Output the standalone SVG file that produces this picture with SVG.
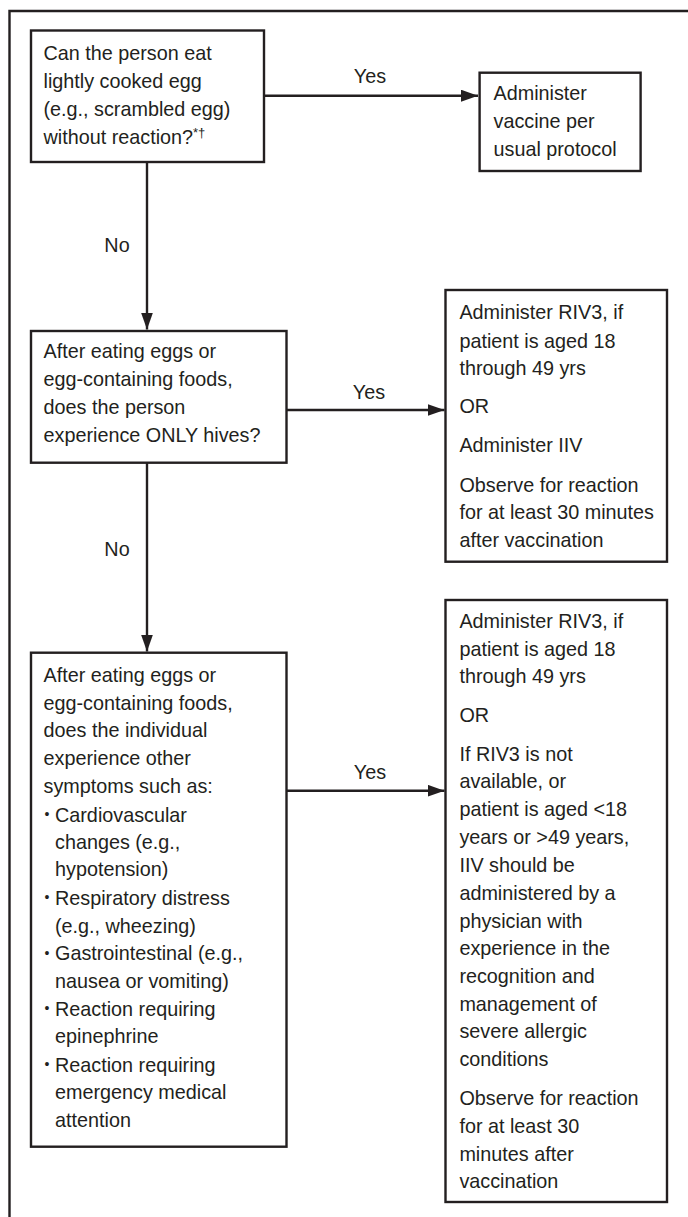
<svg xmlns="http://www.w3.org/2000/svg" width="688" height="1217" viewBox="0 0 688 1217">
<style>
text{font-family:"Liberation Sans",Arial,sans-serif;font-size:19.8px;fill:#231f20}
.box{fill:#fff;stroke:#231f20;stroke-width:2.4}
.ln{fill:none;stroke:#231f20;stroke-width:2.4}
.lbl{text-anchor:middle}
.sup{font-size:13px}
.bul{font-size:14px}
</style>
<defs>
<marker id="ah" viewBox="0 0 17 12" refX="17" refY="6" markerWidth="17" markerHeight="12" markerUnits="userSpaceOnUse" orient="auto">
<path d="M0,0 L17,6 L0,12 Z" fill="#231f20"/>
</marker>
</defs>
<g id="frame">
<path class="ln" d="M9.5,1217 V11 H688"/>
</g>
<g id="connectors">
<path class="ln" d="M264,95.7 H478" marker-end="url(#ah)"/>
<text class="lbl" x="370" y="83">Yes</text>
<path class="ln" d="M147,162 V329.5" marker-end="url(#ah)"/>
<text class="lbl" x="117" y="252">No</text>
<path class="ln" d="M286.5,410 H444.5" marker-end="url(#ah)"/>
<text class="lbl" x="369" y="399">Yes</text>
<path class="ln" d="M147,463 V651.5" marker-end="url(#ah)"/>
<text class="lbl" x="117" y="556">No</text>
<path class="ln" d="M286.5,790.7 H444.5" marker-end="url(#ah)"/>
<text class="lbl" x="370" y="779">Yes</text>
</g>
<g id="q1">
<rect class="box" x="31" y="30.5" width="233" height="131.5"/>
<text x="43.5" y="60">Can the person eat</text>
<text x="43.5" y="88">lightly cooked egg</text>
<text x="43.5" y="116">(e.g., scrambled egg)</text>
<text x="43.5" y="144">without reaction?<tspan class="sup" dy="-7">*†</tspan></text>
</g>
<g id="a1">
<rect class="box" x="479.6" y="72.7" width="161" height="98.3"/>
<text x="493.5" y="100">Administer</text>
<text x="493.5" y="128">vaccine per</text>
<text x="493.5" y="156">usual protocol</text>
</g>
<g id="q2">
<rect class="box" x="31" y="331" width="255.5" height="131.7"/>
<text x="43.5" y="358">After eating eggs or</text>
<text x="43.5" y="386">egg-containing foods,</text>
<text x="43.5" y="413.5">does the person</text>
<text x="43.5" y="441.5">experience ONLY hives?</text>
</g>
<g id="a2">
<rect class="box" x="445.5" y="290" width="221.5" height="271.7"/>
<text x="459.4" y="319.3">Administer RIV3, if</text>
<text x="459.4" y="347.5">patient is aged 18</text>
<text x="459.4" y="375">through 49 yrs</text>
<text x="459.4" y="413.3">OR</text>
<text x="459.4" y="452.3">Administer IIV</text>
<text x="459.4" y="491.7">Observe for reaction</text>
<text x="459.4" y="519.3">for at least 30 minutes</text>
<text x="459.4" y="546.7">after vaccination</text>
</g>
<g id="q3">
<rect class="box" x="31" y="652.7" width="255.5" height="494"/>
<text x="43.5" y="681.7">After eating eggs or</text>
<text x="43.5" y="710">egg-containing foods,</text>
<text x="43.5" y="737">does the individual</text>
<text x="43.5" y="765">experience other</text>
<text x="43.5" y="793.3">symptoms such as:</text>
<text class="bul" x="44.5" y="819">•</text><text x="55" y="821.7">Cardiovascular</text>
<text x="55" y="848.8">changes (e.g.,</text>
<text x="55" y="876.3">hypotension)</text>
<text class="bul" x="44.5" y="902.3">•</text><text x="55" y="905">Respiratory distress</text>
<text x="55" y="932.7">(e.g., wheezing)</text>
<text class="bul" x="44.5" y="957.6">•</text><text x="55" y="960.3">Gastrointestinal (e.g.,</text>
<text x="55" y="987.8">nausea or vomiting)</text>
<text class="bul" x="44.5" y="1013.3">•</text><text x="55" y="1016">Reaction requiring</text>
<text x="55" y="1043.4">epinephrine</text>
<text class="bul" x="44.5" y="1068.8">•</text><text x="55" y="1071.5">Reaction requiring</text>
<text x="55" y="1098.5">emergency medical</text>
<text x="55" y="1126.5">attention</text>
</g>
<g id="a3">
<rect class="box" x="445.5" y="600" width="221.5" height="602"/>
<text x="459.4" y="628.3">Administer RIV3, if</text>
<text x="459.4" y="656">patient is aged 18</text>
<text x="459.4" y="683.3">through 49 yrs</text>
<text x="459.4" y="721.7">OR</text>
<text x="459.4" y="760.7">If RIV3 is not</text>
<text x="459.4" y="788.3">available, or</text>
<text x="459.4" y="816">patient is aged &lt;18</text>
<text x="459.4" y="843.8">years or &gt;49 years,</text>
<text x="459.4" y="871.5">IIV should be</text>
<text x="459.4" y="899.5">administered by a</text>
<text x="459.4" y="927.5">physician with</text>
<text x="459.4" y="955.3">experience in the</text>
<text x="459.4" y="983">recognition and</text>
<text x="459.4" y="1010.7">management of</text>
<text x="459.4" y="1038.3">severe allergic</text>
<text x="459.4" y="1066.3">conditions</text>
<text x="459.4" y="1105.3">Observe for reaction</text>
<text x="459.4" y="1132.8">for at least 30</text>
<text x="459.4" y="1160.5">minutes after</text>
<text x="459.4" y="1188.3">vaccination</text>
</g>
</svg>
